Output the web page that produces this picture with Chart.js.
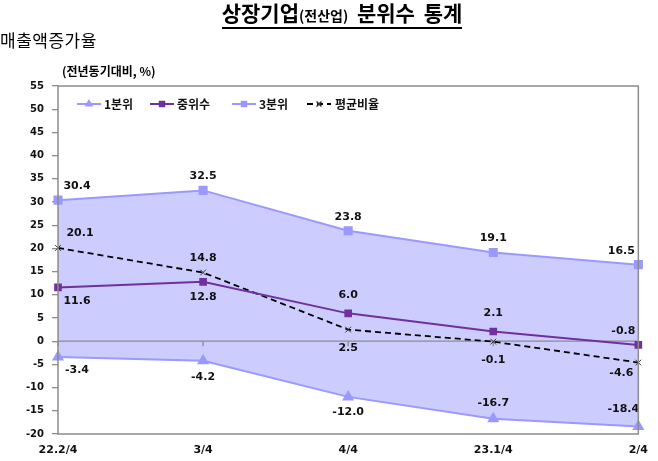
<!DOCTYPE html>
<html><head><meta charset="utf-8">
<script src="https://cdn.jsdelivr.net/npm/chart.js@4.4.0/dist/chart.umd.min.js"></script>
<style>
html,body{margin:0;padding:0;background:#fff;width:658px;height:461px;overflow:hidden;}
#wrap{position:relative;width:658px;height:461px;}
canvas{position:absolute;left:0;top:0;}
.t{position:absolute;font-family:"Noto Sans CJK KR","Noto Sans",sans-serif;color:#000;white-space:nowrap;}
#title{left:0;width:684px;top:-3px;text-align:center;font-size:21px;font-weight:bold;}
#title span.u{border-bottom:2px solid #000;padding-bottom:0px;word-spacing:4px;}
#title small{font-size:14px;font-weight:bold;}
#sub{left:0;top:27px;font-size:17px;letter-spacing:0.5px;}
#unit{left:62px;top:62px;font-size:12px;font-weight:bold;}
</style></head>
<body><div id="wrap">
<canvas id="c" width="658" height="461"></canvas>
<div class="t" id="title"><span class="u">상장기업<small>(전산업)</small> 분위수 통계</span></div>
<div class="t" id="sub">매출액증가율</div>
<div class="t" id="unit">(전년동기대비, %)</div>
</div>
<script>
const categories = ['22.2/4','3/4','4/4','23.1/4','2/4'];
const seriesNames = ['1분위','중위수','3분위','평균비율'];
const q1Values = [-3.4,-4.2,-12.0,-16.7,-18.4];
const medianValues = [11.6,12.8,6.0,2.1,-0.8];
const q3Values = [30.4,32.5,23.8,19.1,16.5];
const avgValues = [20.1,14.8,2.5,-0.1,-4.6];
const yMin = -20, yMax = 55, yStep = 5;

// label offsets (style): [dx, dy] from each point
const labelOffsets = [
  [[19,13],[0,16],[0,15],[0,-16],[-15,-17]],
  [[19,14],[0,15],[0,-18],[0,-18],[-15,-14]],
  [[19,-14],[0,-14],[0,-14],[0,-14],[-17,-13]],
  [[22,-15],[0,-14],[0,19],[0,18],[-17,11]]
];

const FONT = '"DejaVu Sans", Verdana, sans-serif';
const lav = '#9999ff';
const purple = '#70309f';

const zeroPlugin = {
  id:'zeroLine',
  beforeDatasetsDraw(chart){
    const {ctx, chartArea:a, scales} = chart;
    const y0 = scales.y.getPixelForValue(0);
    ctx.save();
    ctx.strokeStyle='#8c8c8c'; ctx.lineWidth=1.3;
    ctx.beginPath(); ctx.moveTo(a.left,y0); ctx.lineTo(a.right,y0);
    categories.forEach((c,i)=>{ const x = scales.x.getPixelForValue(i); ctx.moveTo(x,y0); ctx.lineTo(x,y0+5); });
    ctx.stroke();
    ctx.restore();
  }
};

const labelPlugin = {
  id:'labels',
  afterDatasetsDraw(chart){
    const ctx = chart.ctx;
    ctx.save();
    ctx.font = 'bold 11px ' + FONT;
    ctx.fillStyle = '#111';
    ctx.textAlign='center'; ctx.textBaseline='middle';
    chart.data.datasets.forEach((ds,di)=>{
      const meta = chart.getDatasetMeta(di);
      meta.data.forEach((pt,i)=>{
        const o = labelOffsets[di][i];
        ctx.fillText(ds.data[i].toFixed(1), pt.x+o[0], pt.y+o[1]);
      });
    });
    ctx.restore();
  }
};

const framePlugin = {
  id:'frame',
  afterDatasetsDraw(chart){
    const {ctx, chartArea:a} = chart;
    ctx.save();
    ctx.strokeStyle='#8c8c8c'; ctx.lineWidth=1.5;
    ctx.strokeRect(a.left, a.top, a.right-a.left, a.bottom-a.top);
    ctx.restore();
    const y = 104;
    const items = [
      {x:77, ds:0, text:seriesNames[0]},
      {x:150, ds:1, text:seriesNames[1]},
      {x:232, ds:2, text:seriesNames[2]},
      {x:307, ds:3, text:seriesNames[3]}
    ];
    ctx.save();
    items.forEach(it=>{
      const ds = chart.data.datasets[it.ds];
      ctx.strokeStyle = ds.borderColor; ctx.lineWidth = 2;
      ctx.setLineDash(ds.borderDash || []);
      ctx.beginPath(); ctx.moveTo(it.x, y); ctx.lineTo(it.x+24, y); ctx.stroke();
      ctx.setLineDash([]);
      ctx.fillStyle = ds.pointBackgroundColor; ctx.strokeStyle = ds.pointBorderColor; ctx.lineWidth=1.5;
      Chart.helpers.drawPoint(ctx, {pointStyle: ds.pointStyle, radius: 3.5, rotation:0, borderWidth:1.5}, it.x+12, y);
      ctx.fillStyle = '#111';
      ctx.font = 'bold 12px "Noto Sans CJK KR", sans-serif';
      ctx.textAlign='left'; ctx.textBaseline='middle';
      ctx.fillText(it.text, it.x + (it.ds===3?28:27), y);
    });
    ctx.restore();
  }
};

new Chart(document.getElementById('c'), {
  type:'line',
  data:{
    labels: categories,
    datasets:[
      {label:seriesNames[0], data:q1Values, borderColor:lav, backgroundColor:lav, borderWidth:2,
       pointStyle:'triangle', pointRadius:5, pointBackgroundColor:lav, pointBorderColor:lav, fill:false},
      {label:seriesNames[1], data:medianValues, borderColor:purple, backgroundColor:purple, borderWidth:2,
       pointStyle:'rect', pointRadius:4, pointBackgroundColor:purple, pointBorderColor:purple, fill:false},
      {label:seriesNames[2], data:q3Values, borderColor:lav, backgroundColor:'#ccccff', borderWidth:2,
       pointStyle:'rect', pointRadius:5, pointBackgroundColor:lav, pointBorderColor:lav, fill:{target:0}},
      {label:seriesNames[3], data:avgValues, borderColor:'#000', backgroundColor:'#000', borderWidth:1.8,
       borderDash:[6,4], pointStyle:'crossRot', pointRadius:4, pointBorderWidth:1,
       pointBackgroundColor:'#000', pointBorderColor:'#333', fill:false}
    ]
  },
  options:{
    responsive:false, animation:false,
    clip:false,
    layout:{padding:{top:86,right:12,left:0,bottom:0}},
    plugins:{legend:{display:false}, tooltip:{enabled:false}, filler:{drawTime:'beforeDatasetsDraw', propagate:false}},
    elements:{line:{tension:0}},
    scales:{
      x:{
        offset:false,
        grid:{display:false, drawTicks:false},
        border:{display:false},
        ticks:{color:'#111', font:{family:FONT, size:11, weight:'bold'}, padding:10, maxRotation:0, autoSkip:false},
        afterFit(s){ s.height = 27; }
      },
      y:{
        min:yMin, max:yMax,
        grid:{drawOnChartArea:false, tickColor:'#8c8c8c', tickLength:6, lineWidth:1.3},
        border:{display:false},
        ticks:{stepSize:yStep, color:'#111', font:{family:FONT, size:10, weight:'bold'}, padding:8},
        afterFit(s){ s.width = 58; }
      }
    }
  },
  plugins:[zeroPlugin, labelPlugin, framePlugin]
});
</script>
</body></html>
